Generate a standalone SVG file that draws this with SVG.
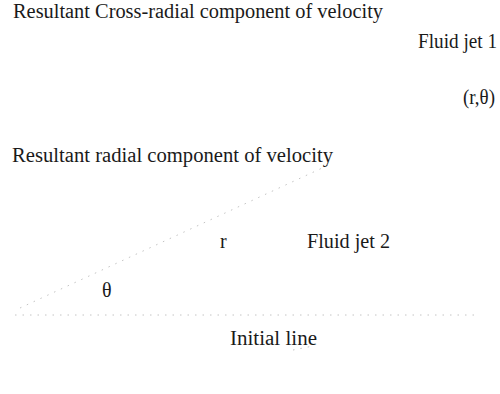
<svg xmlns="http://www.w3.org/2000/svg" width="500" height="394" viewBox="0 0 500 394">
<style>
text{font-family:"Liberation Serif","Times New Roman",serif;font-size:20px;fill:#1a1a1a}
.ln{stroke:#c4c4c4;stroke-width:1;fill:none;stroke-dasharray:1.5 6}
</style>
<rect width="500" height="394" fill="#fff"/>
<g id="connectors">
<line class="ln" x1="20" y1="308" x2="333" y2="163"/>
<line class="ln" x1="15" y1="315" x2="480" y2="315"/>
<line class="ln" x1="293" y1="350" x2="313" y2="346"/>
</g>
<g id="cross-radial"><text x="13" y="18" textLength="370" lengthAdjust="spacingAndGlyphs">Resultant Cross-radial component of velocity</text></g>
<g id="jet1"><text x="418" y="48" textLength="79" lengthAdjust="spacingAndGlyphs">Fluid jet 1</text></g>
<g id="point"><text x="463" y="104" font-size="18" textLength="32" lengthAdjust="spacingAndGlyphs">(r,θ)</text></g>
<g id="radial"><text x="12" y="162" textLength="321" lengthAdjust="spacingAndGlyphs">Resultant radial component of velocity</text></g>
<g id="r-label"><text x="220" y="248">r</text></g>
<g id="jet2"><text x="307" y="248" textLength="83" lengthAdjust="spacingAndGlyphs">Fluid jet 2</text></g>
<g id="theta"><text x="102" y="297" font-size="17">θ</text></g>
<g id="initial"><text x="230" y="345" textLength="87" lengthAdjust="spacingAndGlyphs">Initial line</text></g>
</svg>
